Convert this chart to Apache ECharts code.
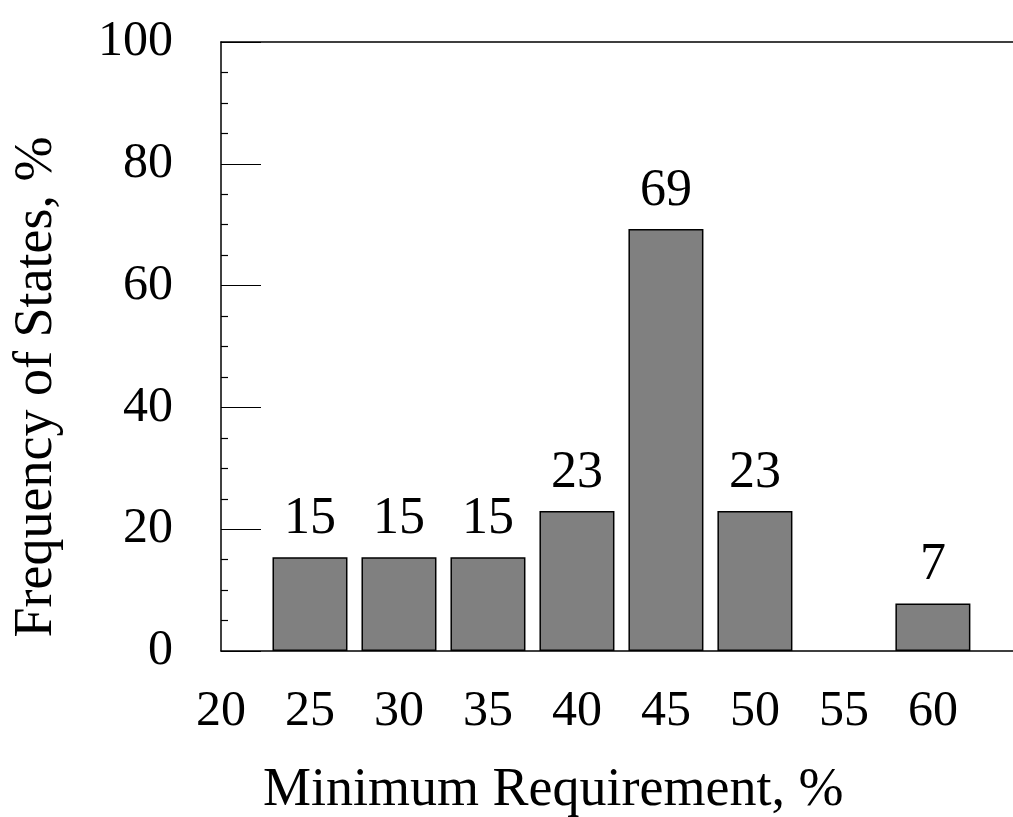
<!DOCTYPE html>
<html>
<head>
<meta charset="utf-8">
<script src="https://cdn.jsdelivr.net/npm/echarts@6/dist/echarts.min.js"></script>
<style>html,body{margin:0;padding:0;background:#fff}#c{width:1013px;height:817px}</style>
</head>
<body>
<div id="c"></div>
<script>
var requirements = [25, 30, 35, 40, 45, 50, 60];
var frequencies = [15.4, 15.4, 15.4, 23, 69.3, 23, 7.8];
var barLabels = ['15', '15', '15', '23', '69', '23', '7'];
var xTitle = 'Minimum Requirement, %';
var yTitle = 'Frequency of States, %';

var FONT = '"Liberation Serif", "DejaVu Serif", serif';
var chart = echarts.init(document.getElementById('c'), null, {renderer: 'canvas'});
var data = requirements.map(function (r, i) { return [r, frequencies[i]]; });
chart.setOption({
  animation: false,
  backgroundColor: '#fff',
  grid: {left: 221, right: 0, top: 42, bottom: 166, containLabel: false},
  xAxis: [{
    type: 'value', min: 20, max: 64.5, interval: 5,
    axisLine: {show: true, lineStyle: {color: '#000', width: 1.5}},
    axisTick: {show: false},
    splitLine: {show: false},
    axisLabel: {color: '#000', fontFamily: FONT, fontSize: 50, margin: 36, showMaxLabel: false,
      formatter: function (v) { return Number.isInteger(v) ? String(v) : ''; }}
  }, {
    type: 'value', min: 20, max: 64.5, position: 'top',
    axisLine: {show: true, lineStyle: {color: '#000', width: 1.5}},
    axisTick: {show: false}, axisLabel: {show: false}, splitLine: {show: false}
  }],
  yAxis: {
    type: 'value', min: 0, max: 100, interval: 20,
    axisLine: {show: true, lineStyle: {color: '#000', width: 1.5}},
    axisTick: {show: true, inside: true, length: 40, lineStyle: {color: '#000', width: 1.2}},
    minorTick: {show: true, splitNumber: 4, length: 7, lineStyle: {color: '#000', width: 1.2}},
    splitLine: {show: false},
    axisLabel: {color: '#000', fontFamily: FONT, fontSize: 50, margin: 48, padding: [0, 0, 14, 0]}
  },
  graphic: [
    {type: 'text', left: 263, top: 764, style: {text: xTitle, font: '54px ' + FONT, fill: '#000'}},
    {type: 'text', x: 10, y: 387, rotation: Math.PI / 2,
      style: {text: yTitle, font: '54px ' + FONT, fill: '#000', align: 'center', verticalAlign: 'top'}}
  ],
  series: [{
    type: 'bar', xAxisIndex: 0, data: data, barWidth: 75,
    itemStyle: {color: '#808080', borderColor: '#000', borderWidth: 1.5},
    label: {show: true, position: 'top', distance: 12, color: '#000', fontFamily: FONT, fontSize: 52,
      formatter: function (p) { return barLabels[p.dataIndex]; }}
  }]
});
</script>
</body>
</html>
